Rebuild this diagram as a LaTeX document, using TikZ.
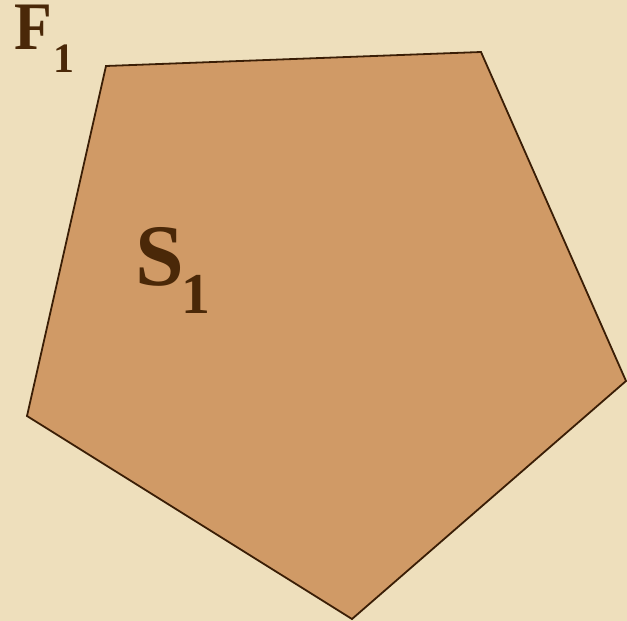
\documentclass[tikz,border=0pt]{standalone}
\usepackage{fontspec}
\setmainfont{Liberation Serif}
\definecolor{parch}{HTML}{EEDFBC}
\definecolor{penta}{HTML}{D09A66}
\definecolor{ink}{HTML}{4A2808}
\definecolor{edge}{HTML}{3A1E06}
\begin{document}
\begin{tikzpicture}[x=1bp,y=-1bp,
  lbl/.style={inner sep=0pt,anchor=base west,text=ink,font=\bfseries}]
\fill[parch] (0,0) rectangle (627,621);
\useasboundingbox (0,0) rectangle (627,621);
\coordinate (p1) at (106,66);
\coordinate (p2) at (481,52);
\coordinate (p3) at (626,381);
\coordinate (p4) at (352,619);
\coordinate (p5) at (27,416);
\filldraw[fill=penta,draw=edge,line width=1.8bp,line join=miter] (p1)--(p2)--(p3)--(p4)--(p5)--cycle;
\node[lbl,text height=40bp,text depth=0pt,font=\bfseries\fontsize{62}{62}\selectfont] (f) at (14,50) {\scalebox{1}[1.1]{F}};
\node[lbl,font=\bfseries\fontsize{42}{42}\selectfont] (f1) at (53,73) {1};
\node[lbl,font=\bfseries\fontsize{88}{88}\selectfont] (s) at (135,285) {S};
\node[lbl,font=\bfseries\fontsize{58}{58}\selectfont] (s1) at (181,313) {1};
\end{tikzpicture}
\end{document}
